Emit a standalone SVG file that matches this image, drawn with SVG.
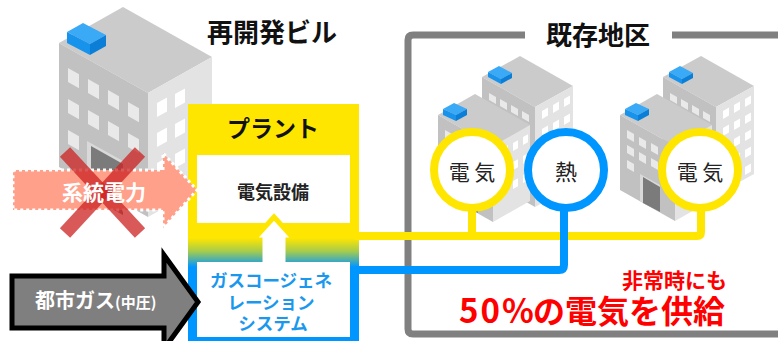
<svg xmlns="http://www.w3.org/2000/svg" width="778" height="341" viewBox="0 0 778 341">
  <defs>
    <style>
      text { font-family: "Noto Sans CJK JP", "Noto Sans", sans-serif; }
      .b { font-weight: 700; }
      .roof { fill: #cbcbcb; }
      .lf { fill: #c1c1c1; }
      .rf { fill: #e3e3e3; }
      .wl { fill: #e9e9e9; }
      .wr { fill: #ffffff; }
      .door { fill: #7b7b7b; }
      .frame { fill: #d9d9d9; }
      .ut { fill: #3aa9f6; }
      .ul { fill: #1893ec; }
      .ur { fill: #0b7fd8; }
      .ring { fill: #ffffff; stroke-width: 8; }
      .yel { stroke: #ffe600; }
      .blu { stroke: #0096ff; }
      .ctext { font-size: 21px; fill: #222; text-anchor: middle; }
    </style>
    <linearGradient id="plantFill" gradientUnits="userSpaceOnUse" x1="0" y1="238" x2="0" y2="267">
      <stop offset="0" stop-color="#ffe600"/>
      <stop offset="0.45" stop-color="#a8cc4a"/>
      <stop offset="1" stop-color="#0096ff"/>
    </linearGradient>
  </defs>

  <rect width="778" height="341" fill="#ffffff"/>

  <!-- district frame -->
  <g id="district-frame" fill="none" stroke="#808080" stroke-width="7">
    <path d="M525,35 H413 Q408,35 408,40 V329 Q408,334 413,334 H778"/>
    <path d="M672,35 H778"/>
  </g>

  <!-- redevelopment building -->
  <g id="redev-building">
    <polygon class="roof" points="59,43 123,7 212,57 148,93"/>
    <polygon class="lf" points="59,43 148,93 148,217 59,167"/>
    <polygon class="rf" points="148,93 212,57 212,181 148,217"/>
    <g class="wl">
      <polygon points="68,68 79,74.2 79,88.2 68,82"/>
      <polygon points="68,99 79,105.2 79,119.2 68,113"/>
      <polygon points="68,130 79,136.2 79,150.2 68,144"/>
      <polygon points="88,79 99,85.2 99,99.2 88,93"/>
      <polygon points="88,110 99,116.2 99,130.2 88,124"/>
      <polygon points="108,90 119,96.2 119,110.2 108,104"/>
      <polygon points="108,121 119,127.2 119,141.2 108,135"/>
      <polygon points="128,102 139,108.2 139,122.2 128,116"/>
      <polygon points="128,133 139,139.2 139,153.2 128,147"/>
    </g>
    <polygon class="frame" points="87,141 123,161 123,215 87,195"/>
    <polygon class="door" points="91,146 123,164 123,215 91,197"/>
    <g class="wr">
      <polygon points="157,103 167,97.4 167,111.4 157,117"/>
      <polygon points="157,133 167,127.4 167,141.4 157,147"/>
      <polygon points="157,163 167,157.4 167,171.4 157,177"/>
      <polygon points="175,94 185,88.4 185,102.4 175,108"/>
      <polygon points="175,124 185,118.4 185,132.4 175,138"/>
      <polygon points="175,154 185,148.4 185,162.4 175,168"/>
    </g>
    <polygon class="ut" points="67,32 83,23 106,35 90,44"/>
    <polygon class="ul" points="67,32 90,44 90,55 67,43"/>
    <polygon class="ur" points="90,44 106,35 106,46 90,55"/>
  </g>

  <!-- existing buildings, left pair -->
  <g id="existing-bldg-1">
    <polygon class="roof" points="482,77 520,56 573,86 535,107"/>
    <polygon class="lf" points="482,77 535,107 535,207 482,177"/>
    <polygon class="rf" points="535,107 573,86 573,186 535,207"/>
    <g class="wl">
      <polygon points="489,93 496,96.9 496,103.9 489,100"/>
      <polygon points="500,99 507,102.9 507,109.9 500,106"/>
      <polygon points="511,105 518,108.9 518,115.9 511,112"/>
      <polygon points="522,111 529,114.9 529,121.9 522,118"/>
    </g>
    <g class="wr">
      <polygon points="542,111 548,107.6 548,115.6 542,119"/>
      <polygon points="542,129 548,125.6 548,133.6 542,137"/>
      <polygon points="542,147 548,143.6 548,151.6 542,155"/>
      <polygon points="553,105 559,101.6 559,109.6 553,113"/>
      <polygon points="553,123 559,119.6 559,127.6 553,131"/>
      <polygon points="553,141 559,137.6 559,145.6 553,149"/>
      <polygon points="564,99 570,95.6 570,103.6 564,107"/>
      <polygon points="564,117 570,113.6 570,121.6 564,125"/>
      <polygon points="564,135 570,131.6 570,139.6 564,143"/>
      <polygon points="564,153 570,149.6 570,157.6 564,161"/>
    </g>
    <polygon class="ut" points="488,72 499,66 512,73 501,79"/>
    <polygon class="ul" points="488,72 501,79 501,84 488,77"/>
    <polygon class="ur" points="501,79 512,73 512,78 501,84"/>

    <polygon class="roof" points="438,115 475,94 530,125 493,146"/>
    <polygon class="lf" points="438,115 493,146 493,222 438,191"/>
    <polygon class="rf" points="493,146 530,125 530,201 493,222"/>
    <g class="wl">
      <polygon points="445,130 452,133.9 452,141.9 445,138"/>
      <polygon points="445,145 452,148.9 452,156.9 445,153"/>
      <polygon points="445,160 452,163.9 452,171.9 445,168"/>
      <polygon points="457,137 464,140.9 464,148.9 457,145"/>
      <polygon points="457,152 464,155.9 464,163.9 457,160"/>
      <polygon points="469,143 476,146.9 476,154.9 469,151"/>
      <polygon points="469,158 476,161.9 476,169.9 469,166"/>
      <polygon points="481,150 488,153.9 488,161.9 481,158"/>
      <polygon points="481,165 488,168.9 488,176.9 481,173"/>
      <polygon points="481,180 488,183.9 488,191.9 481,188"/>
    </g>
    <polygon class="frame" points="458,174 478,185 478,213 458,202"/>
    <polygon class="door" points="461,177 478,187 478,213 461,204"/>
    <g class="wr">
      <polygon points="503,148 508,145.2 508,153.2 503,156"/>
      <polygon points="503,167 508,164.2 508,172.2 503,175"/>
      <polygon points="503,186 508,183.2 508,191.2 503,194"/>
      <polygon points="513,143 518,140.2 518,148.2 513,151"/>
      <polygon points="513,162 518,159.2 518,167.2 513,170"/>
      <polygon points="513,181 518,178.2 518,186.2 513,189"/>
      <polygon points="523,137 528,134.2 528,142.2 523,145"/>
      <polygon points="523,156 528,153.2 528,161.2 523,164"/>
      <polygon points="523,175 528,172.2 528,180.2 523,183"/>
    </g>
    <polygon class="ut" points="443,109 454,103 467,109 456,115"/>
    <polygon class="ul" points="443,109 456,115 456,121 443,115"/>
    <polygon class="ur" points="456,115 467,109 467,115 456,121"/>
  </g>

  <!-- existing buildings, right pair -->
  <g id="existing-bldg-2">
    <polygon class="roof" points="663,77 701,56 754,86 716,107"/>
    <polygon class="lf" points="663,77 716,107 716,195 663,165"/>
    <polygon class="rf" points="716,107 754,86 754,174 716,195"/>
    <g class="wl">
      <polygon points="670,93 677,96.9 677,103.9 670,100"/>
      <polygon points="681,99 688,102.9 688,109.9 681,106"/>
      <polygon points="692,105 699,108.9 699,115.9 692,112"/>
      <polygon points="703,111 710,114.9 710,121.9 703,118"/>
    </g>
    <g class="wr">
      <polygon points="723,111 729,107.6 729,115.6 723,119"/>
      <polygon points="723,128 729,124.6 729,132.6 723,136"/>
      <polygon points="723,145 729,141.6 729,149.6 723,153"/>
      <polygon points="723,162 729,158.6 729,166.6 723,170"/>
      <polygon points="734,105 740,101.6 740,109.6 734,113"/>
      <polygon points="734,122 740,118.6 740,126.6 734,130"/>
      <polygon points="734,139 740,135.6 740,143.6 734,147"/>
      <polygon points="734,156 740,152.6 740,160.6 734,164"/>
      <polygon points="745,99 751,95.6 751,103.6 745,107"/>
      <polygon points="745,116 751,112.6 751,120.6 745,124"/>
      <polygon points="745,133 751,129.6 751,137.6 745,141"/>
      <polygon points="745,150 751,146.6 751,154.6 745,158"/>
      <polygon points="745,167 751,163.6 751,171.6 745,175"/>
    </g>
    <polygon class="ut" points="669,72 680,66 693,73 682,79"/>
    <polygon class="ul" points="669,72 682,79 682,84 669,77"/>
    <polygon class="ur" points="682,79 693,73 693,78 682,84"/>

    <polygon class="roof" points="620,115 657,94 712,125 675,146"/>
    <polygon class="lf" points="620,115 675,146 675,221 620,190"/>
    <polygon class="rf" points="675,146 712,125 712,200 675,221"/>
    <g class="wl">
      <polygon points="627,130 634,133.9 634,141.9 627,138"/>
      <polygon points="627,145 634,148.9 634,156.9 627,153"/>
      <polygon points="627,160 634,163.9 634,171.9 627,168"/>
      <polygon points="639,137 646,140.9 646,148.9 639,145"/>
      <polygon points="639,152 646,155.9 646,163.9 639,160"/>
      <polygon points="651,143 658,146.9 658,154.9 651,151"/>
      <polygon points="651,158 658,161.9 658,169.9 651,166"/>
      <polygon points="663,150 670,153.9 670,161.9 663,158"/>
      <polygon points="663,165 670,168.9 670,176.9 663,173"/>
      <polygon points="663,180 670,183.9 670,191.9 663,188"/>
    </g>
    <polygon class="frame" points="640,174 660,185 660,212 640,201"/>
    <polygon class="door" points="643,177 660,187 660,212 643,203"/>
    <polygon class="ut" points="625,109 636,103 649,109 638,115"/>
    <polygon class="ul" points="625,109 638,115 638,121 625,115"/>
    <polygon class="ur" points="638,115 649,109 649,115 638,121"/>
  </g>

  <!-- plant -->
  <g id="plant">
    <rect x="188" y="104" width="171" height="237" fill="url(#plantFill)"/>
    <rect x="197" y="155" width="153" height="68" fill="#ffffff"/>
    <polygon points="274,217 295,240 288,240 288,266 260,266 260,240 253,240" fill="#ffffff" stroke="url(#plantFill)" stroke-width="5"/>
    <rect x="197" y="262" width="153" height="75" fill="#ffffff"/>
  </g>

  <!-- supply lines -->
  <g id="connectors" fill="none" stroke-width="8">
    <path class="yel" d="M355,236 H697 Q701,236 701,232 V208"/>
    <path class="yel" d="M472,236 V208"/>
    <path class="blu" d="M355,270 H559 Q564,270 564,265 V208"/>
  </g>

  <g id="node-elec-1">
    <circle class="ring yel" cx="472" cy="170" r="38"/>
    <text class="ctext" x="472" y="180">電 気</text>
  </g>
  <g id="node-heat">
    <circle class="ring blu" cx="566" cy="170" r="38"/>
    <text class="ctext" x="566" y="180" style="font-size:22px">熱</text>
  </g>
  <g id="node-elec-2">
    <circle class="ring yel" cx="700" cy="170" r="38"/>
    <text class="ctext" x="700" y="180">電 気</text>
  </g>

  <!-- grid power (cut off) -->
  <g id="grid-power">
    <polygon points="13,170 163,170 163,153 197,190 163,228 163,210 13,210" fill="#ffa08a" stroke="#ffffff" stroke-width="3" stroke-dasharray="3 3"/>
    <g stroke="#cc2222" stroke-opacity="0.75" stroke-width="14">
      <line x1="65" y1="152" x2="140" y2="233"/>
      <line x1="140" y1="152" x2="65" y2="233"/>
    </g>
    <text class="b" x="62" y="200" font-size="21" fill="#ffffff">系統電力</text>
  </g>

  <!-- city gas -->
  <g id="city-gas">
    <polygon points="12,276 164,276 164,255 198,302 164,349 164,328 12,328" fill="#7f7f7f" stroke="#000000" stroke-width="5"/>
    <text class="b" x="35" y="308" font-size="20" fill="#ffffff">都市ガス<tspan font-size="15">(中圧)</tspan></text>
  </g>

  <!-- labels -->
  <g id="labels">
    <text class="b" x="272" y="42" font-size="26" text-anchor="middle" fill="#111">再開発ビル</text>
    <text class="b" x="598" y="45" font-size="26" text-anchor="middle" fill="#111">既存地区</text>
    <text class="b" x="273" y="137" font-size="23" text-anchor="middle" fill="#111">プラント</text>
    <text class="b" x="273" y="199" font-size="18" text-anchor="middle" fill="#222">電気設備</text>
    <text class="b" font-size="17.5" text-anchor="middle" fill="#1a98ee">
      <tspan x="273" y="287">ガスコージェネ</tspan>
      <tspan x="273" y="309">レーション</tspan>
      <tspan x="273" y="330">システム</tspan>
    </text>
    <text class="b" x="727" y="288" font-size="21" text-anchor="end" fill="#ff0000">非常時にも</text>
    <text class="b" y="323" fill="#ff0000"><tspan x="459" font-size="33" letter-spacing="2">50%</tspan><tspan x="533" font-size="32">の電気を供給</tspan></text>
  </g>
</svg>
